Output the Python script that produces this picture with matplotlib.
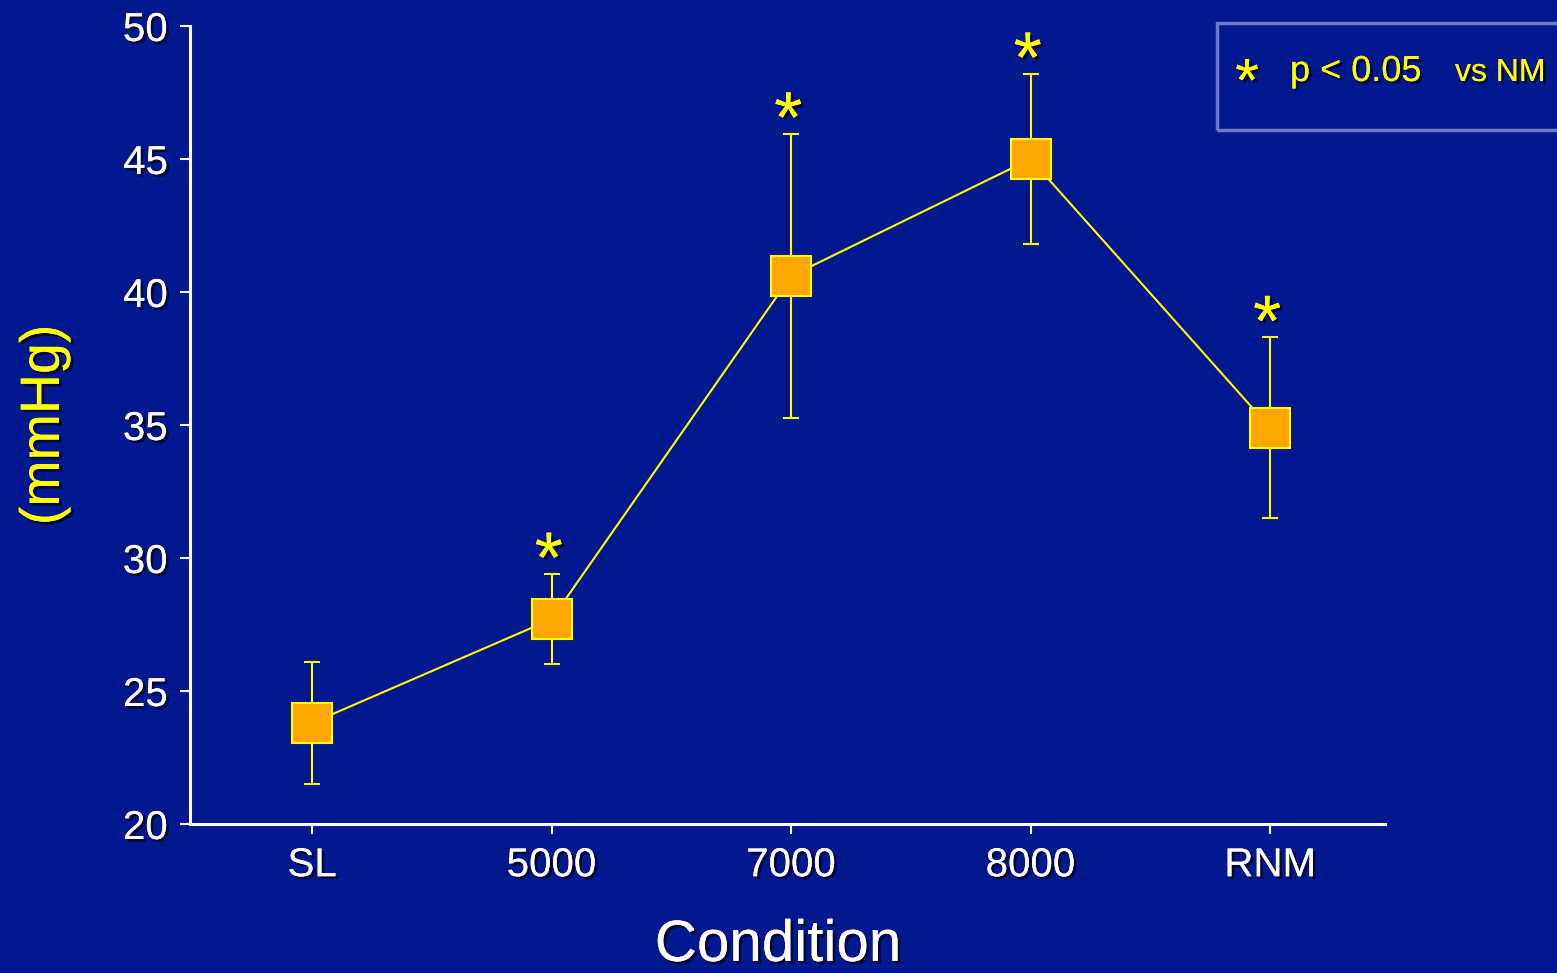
import matplotlib
matplotlib.use('Agg')
import matplotlib.pyplot as plt
import matplotlib.patheffects as pe
from matplotlib.patches import Rectangle

plt.rcParams['font.family'] = ['Liberation Sans', 'DejaVu Sans']

# data
conditions = ['SL', '5000', '7000', '8000', 'RNM']
mean_mmhg = [23.8, 27.7, 40.6, 45.0, 34.9]
sd_mmhg = [2.3, 1.7, 5.35, 3.2, 3.4]
signif = [False, True, True, True, True]
yticks = [20, 25, 30, 35, 40, 45, 50]

bg = '#02188f'
yellow = '#ffff00'
shadow = [pe.withSimplePatchShadow(offset=(2, -2), shadow_rgbFace='black', alpha=0.6), pe.Normal()]

fig = plt.figure(figsize=(15.57, 9.73), dpi=100, facecolor=bg)
ax = fig.add_axes([190/1557, 1 - 824/973, (1385-190)/1557, (824-26)/973])
ax.set_facecolor(bg)

x = list(range(len(conditions)))
ax.errorbar(x, mean_mmhg, yerr=sd_mmhg, color=yellow, lw=1.5, elinewidth=1.5,
            capsize=6, capthick=1.5, marker='s', markersize=29,
            markerfacecolor='#ffa500', markeredgecolor=yellow, markeredgewidth=1.5,
            zorder=3)

# asterisks above error bars
for xi, m, s, sig in zip(x, mean_mmhg, sd_mmhg, signif):
    if sig:
        ax.annotate('*', (xi, m + s), xytext=(-2, -6), textcoords='offset points',
                    ha='center', va='baseline', color=yellow, fontsize=52,
                    path_effects=shadow)

ax.set_xlim(-0.51, 4.48)
ax.set_ylim(20, 50)
ax.set_xticks(x)
ax.set_xticklabels(conditions)
ax.set_yticks(yticks)

for sp in ['top', 'right']:
    ax.spines[sp].set_visible(False)
for sp in ['left', 'bottom']:
    ax.spines[sp].set_color('white')
    ax.spines[sp].set_linewidth(2.2)
ax.tick_params(colors='white', labelsize=29, length=7, width=1.5)
ax.tick_params(axis='y', pad=9)
ax.tick_params(axis='x', pad=9)
for lab in ax.get_xticklabels() + ax.get_yticklabels():
    lab.set_path_effects(shadow)

fig.text(45/1557, 1 - 425/973, '(mmHg)', rotation=90, color=yellow, fontsize=40,
         ha='center', va='center', path_effects=shadow)
fig.text(778/1557, 1 - 961/973, 'Condition', color='white', fontsize=42,
         ha='center', va='baseline', path_effects=shadow)

# legend box
fig.patches.append(Rectangle((1217/1557, 1 - 130/973), 0.3, 107/973,
                             transform=fig.transFigure, facecolor='none',
                             edgecolor='#6a78c8', lw=2.5))
fig.text(1247/1557, 1 - 101/973, '*', color=yellow, fontsize=44, ha='center',
         va='baseline', path_effects=shadow)
fig.text(1290/1557, 1 - 81/973, 'p < 0.05', color=yellow, fontsize=26,
         ha='left', va='baseline', path_effects=shadow)
fig.text(1455/1557, 1 - 81/973, 'vs NM', color=yellow, fontsize=23,
         ha='left', va='baseline', path_effects=shadow)

fig.savefig('out.png', dpi=100, facecolor=bg)
